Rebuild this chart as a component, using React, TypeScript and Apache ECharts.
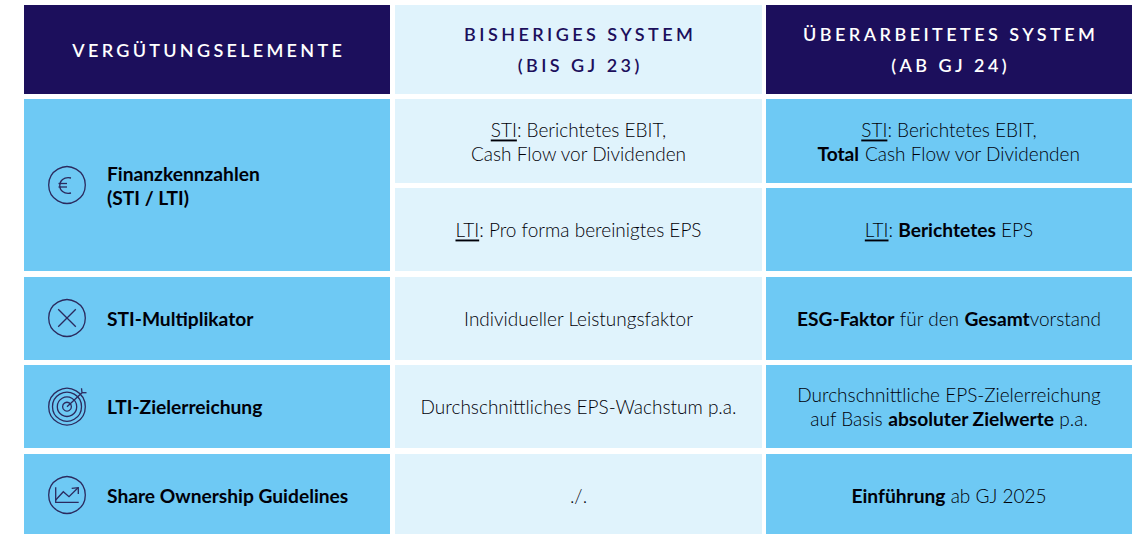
import React, { useEffect, useRef } from "react";
import * as echarts from "echarts";

const headers = ["VERGÜTUNGSELEMENTE", "BISHERIGES SYSTEM\n(BIS GJ 23)", "ÜBERARBEITETES SYSTEM\n(AB GJ 24)"];
const elements = ["Finanzkennzahlen\n(STI / LTI)", "STI-Multiplikator", "LTI-Zielerreichung", "Share Ownership Guidelines"];
const previousSystem = [
  "{u|STI}: Berichtetes EBIT,\nCash Flow vor Dividenden",
  "{u|LTI}: Pro forma bereinigtes EPS",
  "Individueller Leistungsfaktor",
  "Durchschnittliches EPS-Wachstum p.a.",
  "./.",
];
const revisedSystem = [
  "{u|STI}: Berichtetes EBIT,\n{b|Total} Cash Flow vor Dividenden",
  "{u|LTI}: {b|Berichtetes} EPS",
  "{b|ESG-Faktor} für den {b|Gesamt}vorstand",
  "Durchschnittliche EPS-Zielerreichung\nauf Basis {b|absoluter Zielwerte} p.a.",
  "{b|Einführung} ab GJ 2025",
];

const NAVY = "#1c0f5c";
const BLUE = "#6ec9f4";
const PALE = "#e0f3fc";
const INK = "#000008";
const ICON = "#2b2a5e";
const FONT = "Lato";
const SIZE = 19;
const BOLD_SIZE = 19.2;

const colX = [[24, 390], [395, 762], [766, 1132]];
const headerY = [5, 94];
const bodyY = [[99, 183], [188, 271], [277, 360], [365, 448], [454, 534]];
const bodyTextY = [141, 229, 318, 406, 495];
const elementSpan = [[99, 271], [277, 360], [365, 448], [454, 534]];
const elementTextY = [185, 318, 406, 495];
const iconX = 67;
const iconY = [185, 318, 406.7, 495];

const rect = (x0: number, x1: number, y0: number, y1: number, fill: string) => ({
  type: "rect", shape: { x: x0, y: y0, width: x1 - x0, height: y1 - y0 }, style: { fill }, silent: true,
});
const stroke = { stroke: ICON, lineWidth: 1.3, fill: "none" };
const ring = (cx: number, cy: number, r: number) => ({ type: "circle", shape: { cx, cy, r }, style: stroke, silent: true });
const seg = (x1: number, y1: number, x2: number, y2: number) => ({ type: "line", shape: { x1, y1, x2, y2 }, style: stroke, silent: true });
const poly = (points: number[][]) => ({ type: "polyline", shape: { points }, style: stroke, silent: true });

const cellText = (text: string, x: number, y: number, align: string, bold: boolean, fill: string) => ({
  type: "text", x, y, silent: true,
  style: {
    text, x: 0, y: 0, align, verticalAlign: "middle", fill,
    fontFamily: FONT, fontSize: bold ? BOLD_SIZE : SIZE, lineHeight: 24, fontWeight: bold ? 700 : 300,
    rich: {
      b: { fontFamily: FONT, fontSize: BOLD_SIZE, lineHeight: 24, fontWeight: 700, fill },
      u: { fontFamily: FONT, fontSize: SIZE, lineHeight: 24, fontWeight: 300, fill },
    },
  },
});
const headerText = (text: string, x: number, y: number, fill: string) => ({
  type: "text", x, y, silent: true,
  style: {
    text, x: 0, y: 0, align: "center", verticalAlign: "middle", fill,
    fontFamily: FONT, fontSize: 18, lineHeight: 31, fontWeight: 600,
  },
});

function buildGraphic() {
  const out: any[] = [];
  const mid = (c: number[]) => (c[0] + c[1]) / 2;
  out.push(rect(colX[0][0], colX[0][1], headerY[0], headerY[1], NAVY));
  out.push(rect(colX[1][0], colX[1][1], headerY[0], headerY[1], PALE));
  out.push(rect(colX[2][0], colX[2][1], headerY[0], headerY[1], NAVY));
  out.push(headerText(headers[0], mid(colX[0]) + 1.7, 49.5, "#ffffff"));
  out.push(headerText(headers[1], mid(colX[1]) + 1.7, 49.5, NAVY));
  out.push(headerText(headers[2], mid(colX[2]) + 1.7, 49.5, "#ffffff"));
  elementSpan.forEach((s, i) => {
    out.push(rect(colX[0][0], colX[0][1], s[0], s[1], BLUE));
    out.push(cellText(elements[i], 107, elementTextY[i], "left", true, INK));
  });
  bodyY.forEach((s, i) => {
    out.push(rect(colX[1][0], colX[1][1], s[0], s[1], PALE));
    out.push(rect(colX[2][0], colX[2][1], s[0], s[1], BLUE));
    out.push(cellText(previousSystem[i], mid(colX[1]), bodyTextY[i], "center", false, INK));
    out.push(cellText(revisedSystem[i], mid(colX[2]), bodyTextY[i], "center", false, INK));
  });
  iconY.forEach((cy) => out.push(ring(iconX, cy, 18.3)));
  // euro
  out.push({ type: "bezierCurve", shape: { x1: 71, y1: 178, x2: 71, y2: 193, cpx1: 56, cpy1: 175, cpx2: 56, cpy2: 196 }, style: stroke, silent: true });
  out.push(seg(58.5, 183.5, 67, 183.5), seg(58.5, 187, 67, 187));
  // multiplier
  const c = iconY[1];
  out.push(seg(iconX - 8.8, c - 8.8, iconX + 8.8, c + 8.8), seg(iconX - 8.8, c + 8.8, iconX + 8.8, c - 8.8));
  // target
  const t = iconY[2];
  out.push(ring(iconX, t, 14.5), ring(iconX, t, 9.7), ring(iconX, t, 4.4));
  out.push(seg(iconX, t, iconX + 15, t - 14), seg(iconX + 14.5, t - 18.5, iconX + 15, t - 14), seg(iconX + 15, t - 14, iconX + 19.5, t - 14));
  // chart
  const k = iconY[3];
  out.push(poly([[55.7, k - 7.7], [55.7, k + 7.3], [78.7, k + 7.3]]));
  out.push(poly([[55.7, k + 5], [63.3, k - 3.3], [69, k + 1.7], [77.8, k - 7]]));
  out.push(poly([[71.7, k - 6.7], [78.3, k - 7.3], [78.3, k - 1]]));
  return out;
}

export default function App() {
  const ref = useRef<HTMLDivElement>(null);
  useEffect(() => {
    const chart = echarts.init(ref.current!, null, { renderer: "svg", width: 1142, height: 534 });
    chart.setOption({ animation: false, backgroundColor: "#ffffff", graphic: { elements: buildGraphic() } });
    ref.current!.querySelectorAll("text").forEach((el) => {
      const s = (el.textContent || "").trim();
      if (s === "STI" || s === "LTI") el.style.textDecoration = "underline";
      if (headers.some((h) => h.split("\n").includes(s))) {
        el.style.letterSpacing = s === headers[0] ? "3.3px" : "3.45px";
        el.style.setProperty("-webkit-text-stroke", "0.35px currentColor");
        el.style.color = el.getAttribute("fill") || "";
      }
    });
    return () => chart.dispose();
  }, []);
  return <div ref={ref} style={{ position: "absolute", left: 0, top: 0, width: 1142, height: 534 }} />;
}
